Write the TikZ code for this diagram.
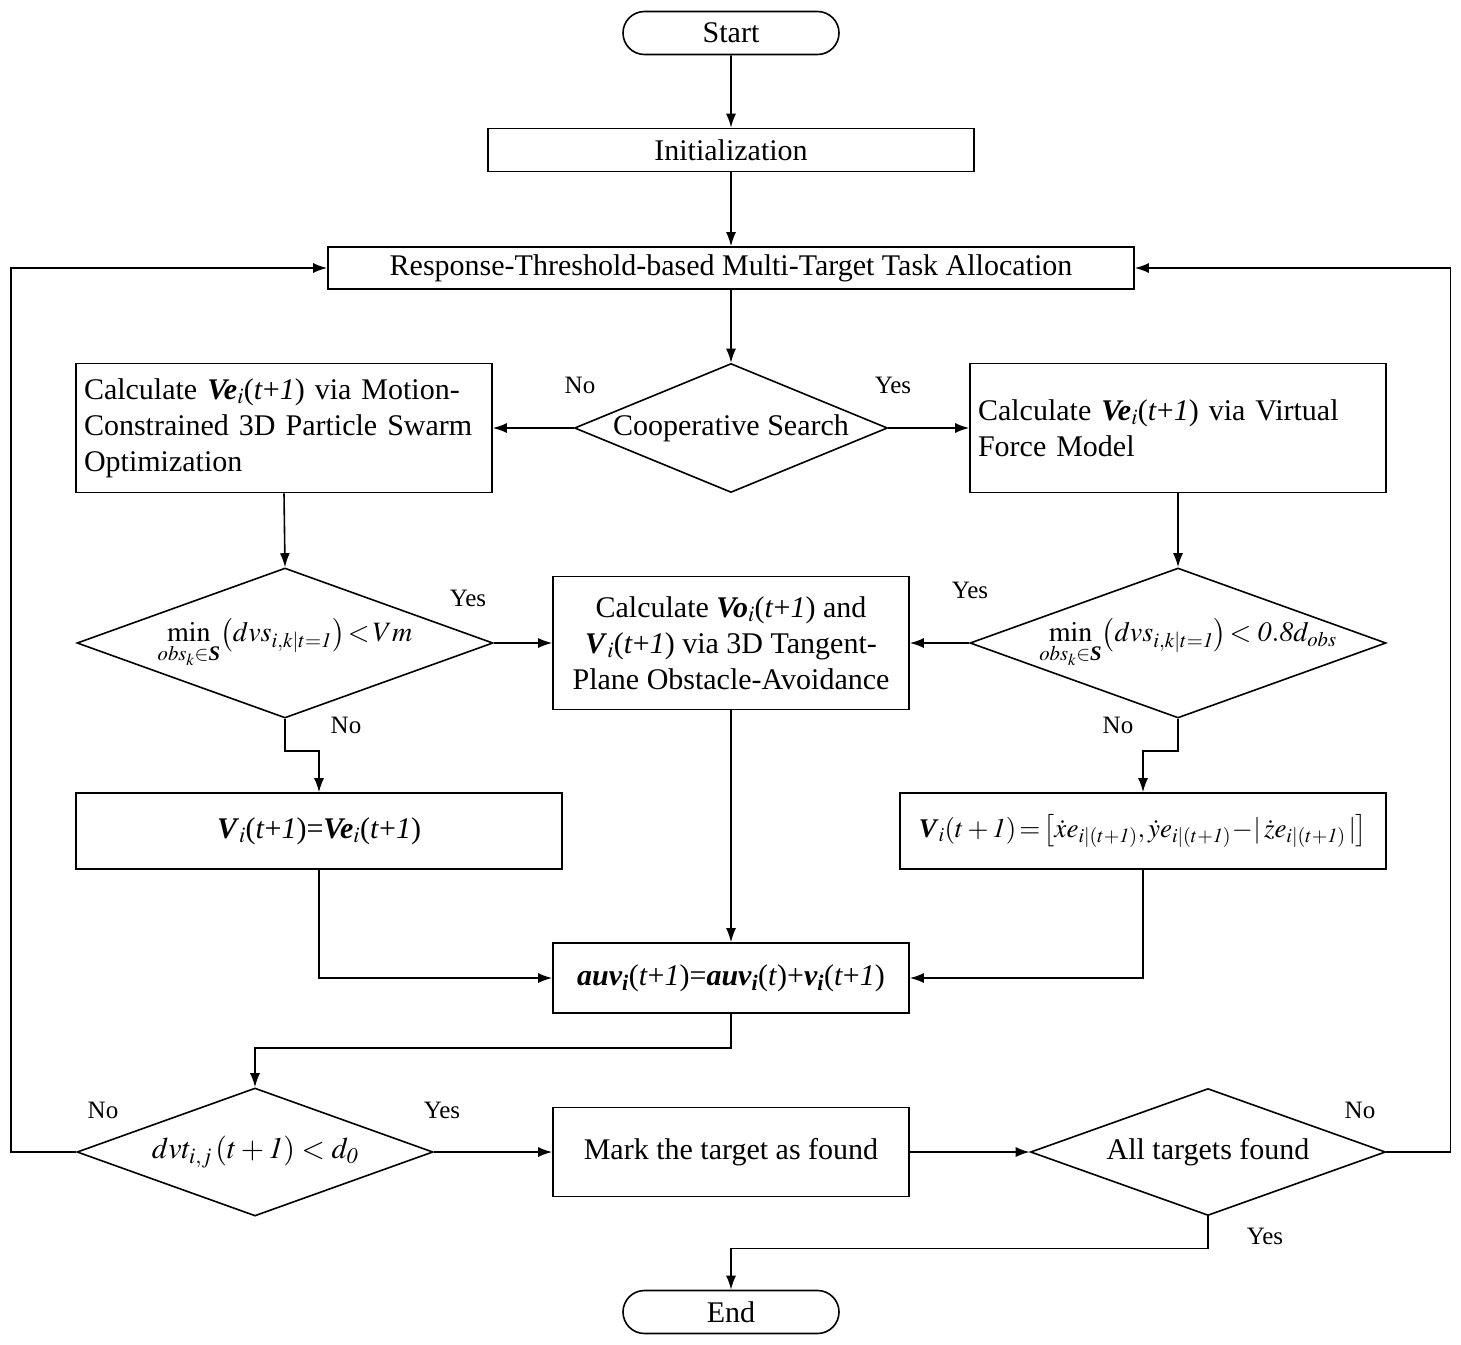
\documentclass[tikz,border=0pt]{standalone}
\usepackage{amsmath}
\usepackage{mathptmx}
\usepackage{fontspec}
\setmainfont{Liberation Serif}
\usetikzlibrary{arrows.meta,shapes.geometric,shapes.misc}

\newcommand{\bvec}[1]{\textbf{\textit{#1}}}
\newcommand{\tpo}{(\textit{t}+\textit{1})}

\begin{document}
\begin{tikzpicture}[x=1pt,y=1pt,yscale=-1,
    every node/.style={font=\fontsize{30}{36}\selectfont},
    procbox/.style={draw,line width=1.6pt,inner sep=0pt,align=center},
    decision/.style={diamond,draw,line width=1.6pt,inner sep=0pt},
    term/.style={rounded rectangle,draw,line width=1.6pt,inner sep=0pt,
      minimum width=216pt,minimum height=43pt},
    flow/.style={line width=1.6pt,-{Latex[length=14pt,width=10pt]}},
    lbl/.style={font=\fontsize{25}{30}\selectfont},
    mathsm/.style={font=\fontsize{28}{34}\selectfont}]

        \useasboundingbox (0,0) rectangle (1461,1344);

        % top row
        \node[term] (start) at (731,33) {Start};
        \node[procbox,minimum width=486pt,minimum height=43pt] (init) at (731,150) {Initialization};
        \node[procbox,minimum width=806pt,minimum height=42pt] (rta) at (731,268)
          {Response-Threshold-based Multi-Target Task Allocation};
        \node[decision,minimum width=313pt,minimum height=129pt,
          label=center:{Cooperative Search}] (coop) at (731,428) {};
        \node[procbox,minimum width=416pt,minimum height=129pt,align=left,text width=400pt] (pso) at (284,428)
          {Calculate \bvec{Ve}$_i$\tpo{} via Motion-\\Constrained 3D Particle Swarm\\Optimization};
        \node[procbox,minimum width=416pt,minimum height=129pt,align=left,text width=400pt] (vfm) at (1178,428)
          {Calculate \bvec{Ve}$_i$\tpo{} via Virtual\\Force Model};

        % obstacle checks
        \node[decision,minimum width=416pt,minimum height=150pt,
          label={[mathsm]center:{$\min\limits_{obs_k\in\text{\bfseries\itshape S}}\!\left(dvs_{i,k|t=\mathit{1}}\right)\!<\!Vm$}}]
          (chkl) at (285,643) {};
        \node[procbox,minimum width=356pt,minimum height=133pt] (tpo) at (731,643)
          {Calculate \bvec{Vo}$_i$\tpo{} and\\\bvec{V}$_i$\tpo{} via 3D Tangent-\\Plane Obstacle-Avoidance};
        \node[decision,minimum width=416pt,minimum height=150pt,
          label={[mathsm,xshift=10pt]center:{$\min\limits_{obs_k\in\text{\bfseries\itshape S}}\!\left(dvs_{i,k|t=\mathit{1}}\right)\!<\mathit{0.8}d_{obs}$}}]
          (chkr) at (1178,643) {};

        \node[procbox,minimum width=486pt,minimum height=76pt] (vl) at (319,831)
          {\bvec{V}$_i$\tpo=\bvec{Ve}$_i$\tpo};
        \node[procbox,minimum width=486pt,minimum height=76pt,font=\fontsize{27}{32}\selectfont] (vr) at (1143,831)
          {$\text{\bvec{V}}_i\!\left(t+\mathit{1}\right)\!=\!\left[\dot{x}e_{i|(t+\mathit{1})},\dot{y}e_{i|(t+\mathit{1})}\!-\!|\,\dot{z}e_{i|(t+\mathit{1})}\,|\right]$};
        \node[procbox,minimum width=356pt,minimum height=70pt] (auv) at (731,978)
          {\bvec{auv\textsubscript{i}}\tpo=\bvec{auv\textsubscript{i}}(\textit{t})+\bvec{v\textsubscript{i}}\tpo};

        % bottom row
        \node[decision,minimum width=356pt,minimum height=128pt,
          label=center:{$dvt_{i,j}\left(t+\mathit{1}\right)<d_{\mathit{0}}$}] (dvt) at (255,1152) {};
        \node[procbox,minimum width=356pt,minimum height=89pt] (mark) at (731,1152) {Mark the target as found};
        \node[decision,minimum width=355pt,minimum height=127pt,
          label=center:{All targets found}] (alltg) at (1208,1152) {};
        \node[term] (stop) at (731,1312) {End};

        \draw[flow] (start) -- (init);
        \draw[flow] (init) -- (rta);
        \draw[flow] (rta) -- (coop);
        \draw[flow] (coop.west) -- (pso.east);
        \draw[flow] (coop.east) -- (vfm.west);
        \draw[flow] (pso.south) -- (chkl.north);
        \draw[flow] (vfm.south) -- (chkr.north);
        \draw[flow] (chkl.east) -- (tpo.west);
        \draw[flow] (chkr.west) -- (tpo.east);
        \draw[flow] (chkl.south) -- ++(0,32) -| (vl.north);
        \draw[flow] (chkr.south) -- ++(0,32) -| (vr.north);
        \draw[flow] (vl.south) |- (auv.west);
        \draw[flow] (vr.south) |- (auv.east);
        \draw[flow] (tpo) -- (auv);
        \draw[flow] (auv.south) -- ++(0,34) -| (dvt.north);
        \draw[flow] (dvt.west) -- ++(-65,0) |- (rta.west);
        \draw[flow] (dvt.east) -- (mark.west);
        \draw[flow] (mark) -- (alltg);
        \draw[flow] (alltg.east) -- ++(64,0) |- (rta.east);
        \draw[flow] (alltg.south) -- ++(0,32) -| (stop.north);

        \node[lbl] (n1) at (580,385) {No};
        \node[lbl] (y1) at (893,385) {Yes};
        \node[lbl] (y2) at (468,598) {Yes};
        \node[lbl] (y3) at (970,590) {Yes};
        \node[lbl] (n2) at (346,725) {No};
        \node[lbl] (n3) at (1118,725) {No};
        \node[lbl] (n4) at (103,1110) {No};
        \node[lbl] (y4) at (442,1110) {Yes};
        \node[lbl] (n5) at (1360,1110) {No};
        \node[lbl] (y5) at (1265,1236) {Yes};
    \end{tikzpicture}
\end{document}
